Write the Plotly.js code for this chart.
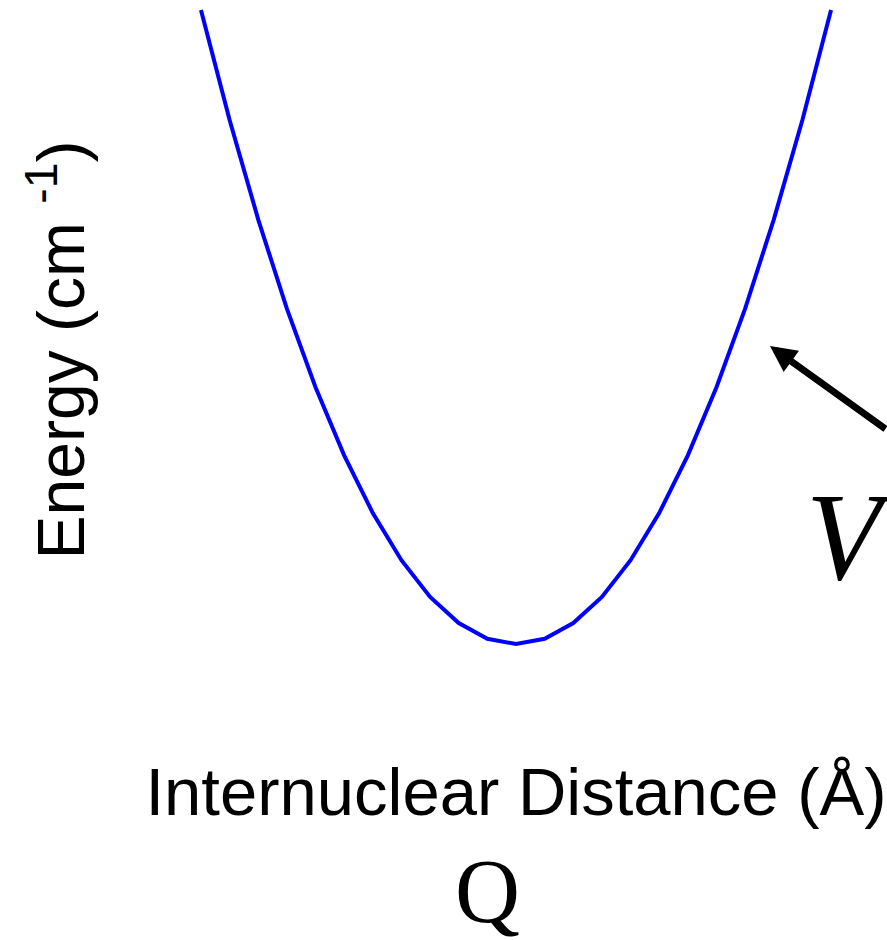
<!DOCTYPE html>
<html>
<head>
<meta charset="utf-8">
<script src="https://cdn.plot.ly/plotly-3.0.1.min.js"></script>
<style>html,body{margin:0;padding:0;background:#fff;}#chart{width:887px;height:940px;}</style>
</head>
<body>
<div id="chart"></div>
<script>
// Internuclear distance Q (arbitrary units, centred on equilibrium)
var distance = [-1.1,-1.0,-0.9,-0.8,-0.7,-0.6,-0.5,-0.4,-0.3,-0.2,-0.1,0.0,0.1,0.2,0.3,0.4,0.5,0.6,0.7,0.8,0.9,1.0,1.1];
// Potential energy (cm^-1)
var energy = [6050,5000,4050,3200,2450,1800,1250,800,450,200,50,0,50,200,450,800,1250,1800,2450,3200,4050,5000,6050];

var xTitle = 'Internuclear Distance (Å)';
var yTitle = 'Energy (cm <sup>-1</sup>)';
var qLabel = 'Q';
var vLabel = '<i>V</i>(Q)';

var trace = {
  x: distance, y: energy, type: 'scatter', mode: 'lines',
  line: {color: '#0000ff', width: 4}, hoverinfo: 'skip', showlegend: false
};

var layout = {
  width: 887, height: 940,
  margin: {l: 160, r: 15, t: 0, b: 240},
  paper_bgcolor: '#ffffff', plot_bgcolor: '#ffffff',
  showlegend: false,
  xaxis: {
    range: [-1.243, 1.243], showgrid: false, zeroline: false, showline: false,
    showticklabels: false, ticks: '', automargin: false,
    title: {text: xTitle, font: {family: 'Liberation Sans, Arial, sans-serif', size: 67, color: '#000'}, standoff: 68}
  },
  yaxis: {
    range: [-534, 6145], showgrid: false, zeroline: false, showline: false,
    showticklabels: false, ticks: '', automargin: false,
    title: {text: yTitle, font: {family: 'Liberation Sans, Arial, sans-serif', size: 66, color: '#000'}, standoff: 52}
  },
  annotations: [
    {xref: 'paper', yref: 'paper', x: (487-160)/712, y: (700-891)/700, xanchor: 'center', yanchor: 'middle',
     text: qLabel, showarrow: false, font: {family: 'Liberation Serif, Times New Roman, serif', size: 90, color: '#000'}},
    {xref: 'paper', yref: 'paper', x: (804-160)/712, y: (700-537)/700, xanchor: 'left', yanchor: 'middle',
     text: vLabel, showarrow: false, font: {family: 'Liberation Serif, Times New Roman, serif', size: 124, color: '#000'}},
    {xref: 'paper', yref: 'paper', x: (770-160)/712, y: (700-346)/700, text: '', showarrow: true,
     arrowhead: 2, arrowsize: 0.75, arrowwidth: 7, arrowcolor: '#000', ax: 117, ay: 84}
  ]
};

Plotly.newPlot('chart', [trace], layout, {staticPlot: true, displayModeBar: false});
</script>
</body>
</html>
